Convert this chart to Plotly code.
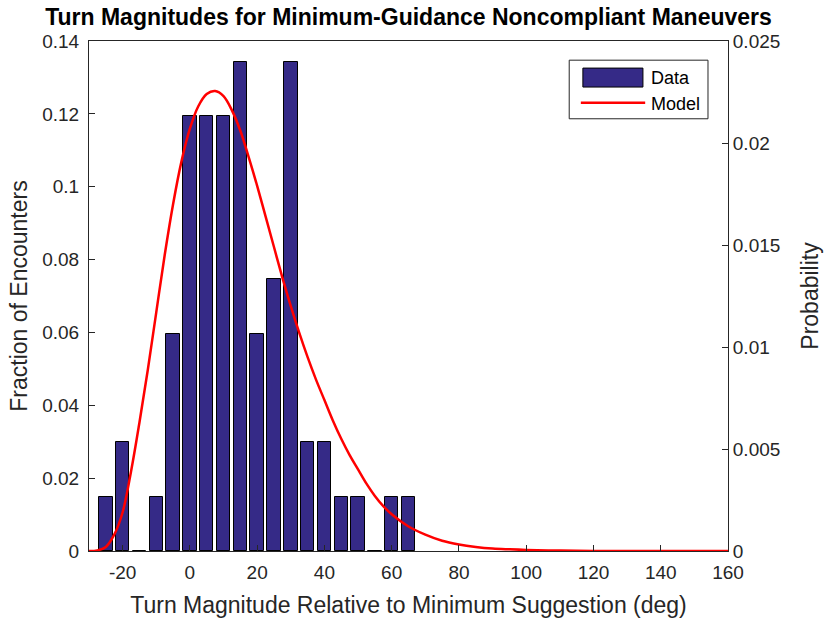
import plotly.graph_objects as go

# Histogram data (bin centers in deg, fraction of encounters)
bin_centers = [-25, -20, -15, -10, -5, 0, 5, 10, 15, 20, 25, 30, 35, 40, 45, 50, 55, 60, 65]
fractions = [0.0149, 0.0299, 0.0, 0.0149, 0.0597, 0.1194, 0.1194, 0.1194, 0.1343, 0.0597,
             0.0746, 0.1343, 0.0299, 0.0299, 0.0149, 0.0149, 0.0, 0.0149, 0.0149]

# Model curve (deg, probability)
model_x = [-30, -27.5, -25, -22.5, -20, -17.5, -15, -12.5, -10, -7.5, -5, -2.5, 0, 2.5, 5, 7.5,
           10, 12.5, 15, 17.5, 20, 22.5, 25, 27.5, 30, 32.5, 35, 37.5, 40, 42.5, 45, 47.5, 50,
           52.5, 55, 57.5, 60, 65, 70, 75, 80, 85, 90, 95, 100, 110, 120, 130, 140, 150, 160]
model_p = [0.0, 0.00003, 0.0002, 0.0008, 0.0019, 0.0039, 0.0063, 0.0089, 0.0117, 0.0145,
           0.0170, 0.0191, 0.0207, 0.0218, 0.0224, 0.02255, 0.0223, 0.0216, 0.0206, 0.0193,
           0.0179, 0.0164, 0.0149, 0.0134, 0.0120, 0.0107, 0.0095, 0.0084, 0.0074, 0.0064,
           0.0055, 0.0047, 0.0040, 0.0033, 0.0027, 0.0022, 0.0018, 0.0012, 0.0008, 0.0005,
           0.00032, 0.0002, 0.00012, 0.00008, 0.00005, 0.00002, 0.0, 0.0, 0.0, 0.0, 0.0]

x_ticks = [-20, 0, 20, 40, 60, 80, 100, 120, 140, 160]
x_tick_text = ["-20", "0", "20", "40", "60", "80", "100", "120", "140", "160"]
y1_ticks = [0, 0.02, 0.04, 0.06, 0.08, 0.1, 0.12, 0.14]
y1_tick_text = ["0", "0.02", "0.04", "0.06", "0.08", "0.1", "0.12", "0.14"]
y2_ticks = [0, 0.005, 0.01, 0.015, 0.02, 0.025]
y2_tick_text = ["0", "0.005", "0.01", "0.015", "0.02", "0.025"]

BAR_COLOR = "#352A87"
AX = "#262626"
FONT = "Liberation Sans, Arial, sans-serif"

fig = go.Figure()
fig.add_trace(go.Bar(x=bin_centers, y=fractions, width=4, name="Data",
                     marker=dict(color=BAR_COLOR, line=dict(color="black", width=1)),
                     yaxis="y", showlegend=False))
fig.add_trace(go.Scatter(x=model_x, y=model_p, mode="lines", name="Model",
                         line=dict(color="#FF0000", width=2.5, shape="spline", smoothing=1.0),
                         yaxis="y2", showlegend=False))

axis_common = dict(showgrid=False, zeroline=False, showline=True, linecolor=AX, linewidth=1,
                   ticks="inside", tickcolor=AX, ticklen=6, tickwidth=1, automargin=False,
                   tickfont=dict(family=FONT, size=19, color=AX))

fig.update_layout(
    width=825, height=621,
    margin=dict(l=89, r=97, t=41, b=70, pad=0),
    paper_bgcolor="white", plot_bgcolor="white",
    font=dict(family=FONT, color=AX),
    title=dict(text="<b>Turn Magnitudes for Minimum-Guidance Noncompliant Maneuvers</b>",
               xref="paper", x=0.5, xanchor="center", y=1 - 17 / 621, yanchor="middle",
               font=dict(family=FONT, size=23, color="black")),
    xaxis=dict(range=[-30, 160], tickvals=x_ticks, ticktext=x_tick_text, mirror=True,
               ticklabelstandoff=4,
               title=dict(text="Turn Magnitude Relative to Minimum Suggestion (deg)",
                          font=dict(family=FONT, size=23, color=AX), standoff=15),
               **axis_common),
    yaxis=dict(range=[0, 0.14], tickvals=y1_ticks, ticktext=y1_tick_text,
               ticklabelstandoff=5,
               title=dict(text="Fraction of Encounters", font=dict(family=FONT, size=23, color=AX),
                          standoff=8),
               **axis_common),
    yaxis2=dict(range=[0, 0.025], tickvals=y2_ticks, ticktext=y2_tick_text, overlaying="y",
                side="right",
                title=dict(text="Probability", font=dict(family=FONT, size=23, color=AX),
                           standoff=22),
                **axis_common),
    bargap=0,
)

# Custom legend box (MATLAB-style)
lx0, lx1, ly0, ly1 = 0.7515, 0.9687, 0.8475, 0.9624
fig.add_shape(type="rect", xref="paper", yref="paper", x0=lx0, x1=lx1, y0=ly0, y1=ly1,
              line=dict(color=AX, width=1), fillcolor="white", layer="above")
fig.add_shape(type="rect", xref="paper", yref="paper", x0=0.7729, x1=0.8669, y0=0.9097, y1=0.9469,
              line=dict(color="black", width=1), fillcolor=BAR_COLOR, layer="above")
fig.add_shape(type="line", xref="paper", yref="paper", x0=0.7697, x1=0.8704, y0=0.8789, y1=0.8789,
              line=dict(color="#FF0000", width=2.5), layer="above")
fig.add_annotation(xref="paper", yref="paper", x=0.876, y=0.928, text="Data", showarrow=False,
                   xanchor="left", yanchor="middle", font=dict(family=FONT, size=18, color="black"))
fig.add_annotation(xref="paper", yref="paper", x=0.876, y=0.876, text="Model", showarrow=False,
                   xanchor="left", yanchor="middle", font=dict(family=FONT, size=18, color="black"))

fig.write_html("out.html", config={"displayModeBar": False},
               post_script="document.body.style.margin='0px';")
